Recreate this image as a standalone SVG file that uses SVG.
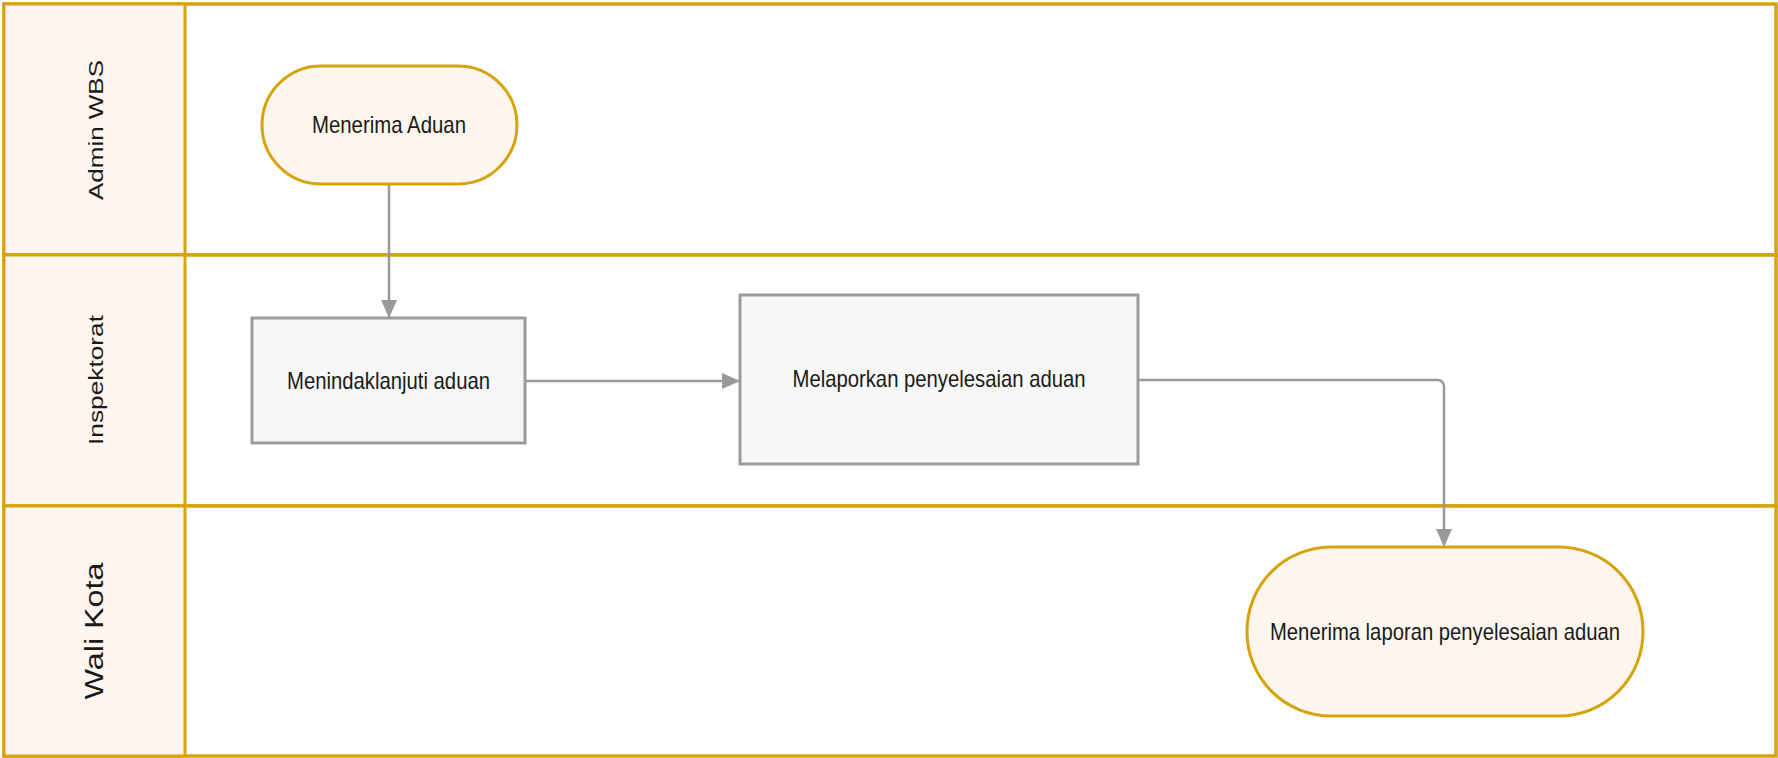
<svg xmlns="http://www.w3.org/2000/svg" width="1778" height="758" viewBox="0 0 1778 758">
<style>
.lane{fill:#ffffff;stroke:#d6a30b;stroke-width:3.5}
.hdr{fill:#fdf6ef;stroke:#d6a30b;stroke-width:3}
.lbl{font-family:"Liberation Sans",Arial,sans-serif;fill:#1a1a1a}
.term{fill:#fdf6ee;stroke:#d6a30b;stroke-width:3}
.proc{fill:#f7f7f7;stroke:#9b9b9b;stroke-width:3}
.txt{font-family:"Liberation Sans",Arial,sans-serif;font-size:24px;fill:#1a1a1a;text-anchor:middle}
.conn{fill:none;stroke:#999999;stroke-width:2.5}
</style>
<defs>
<marker id="arr" viewBox="0 0 18 16" refX="18" refY="8" markerWidth="18" markerHeight="16" markerUnits="userSpaceOnUse" orient="auto">
<path d="M0,0 L18,8 L0,16 Z" fill="#999999"/>
</marker>
</defs>
<rect width="1778" height="758" fill="#ffffff"/>
<g id="lane-admin">
<rect class="lane" x="4" y="4" width="1772" height="251"/>
<rect class="hdr" x="4" y="4" width="181" height="251"/>
<text class="lbl" font-size="21" transform="translate(103,130) rotate(-90)" text-anchor="middle" textLength="140" lengthAdjust="spacingAndGlyphs">Admin WBS</text>
</g>
<g id="lane-inspektorat">
<rect class="lane" x="4" y="255" width="1772" height="251"/>
<rect class="hdr" x="4" y="255" width="181" height="251"/>
<text class="lbl" font-size="21" transform="translate(103,380) rotate(-90)" text-anchor="middle" textLength="130" lengthAdjust="spacingAndGlyphs">Inspektorat</text>
</g>
<g id="lane-walikota">
<rect class="lane" x="4" y="506" width="1772" height="250"/>
<rect class="hdr" x="4" y="506" width="181" height="250"/>
<text class="lbl" font-size="25" transform="translate(103,631) rotate(-90)" text-anchor="middle" textLength="137" lengthAdjust="spacingAndGlyphs">Wali Kota</text>
</g>
<g id="connectors">
<path class="conn" d="M389,184 V318" marker-end="url(#arr)"/>
<path class="conn" d="M525,381 H740" marker-end="url(#arr)"/>
<path class="conn" d="M1138,380 H1437 Q1444,380 1444,387 V547" marker-end="url(#arr)"/>
</g>
<g id="node-menerima-aduan">
<rect class="term" x="262" y="66" width="255" height="118" rx="59" ry="59"/>
<text class="txt" x="389" y="133" textLength="154" lengthAdjust="spacingAndGlyphs">Menerima Aduan</text>
</g>
<g id="node-menindaklanjuti">
<rect class="proc" x="252" y="318" width="273" height="125"/>
<text class="txt" x="388.5" y="389" textLength="203" lengthAdjust="spacingAndGlyphs">Menindaklanjuti aduan</text>
</g>
<g id="node-melaporkan">
<rect class="proc" x="740" y="295" width="398" height="169"/>
<text class="txt" x="939" y="387" textLength="293" lengthAdjust="spacingAndGlyphs">Melaporkan penyelesaian aduan</text>
</g>
<g id="node-menerima-laporan">
<rect class="term" x="1247" y="547" width="396" height="169" rx="84" ry="84"/>
<text class="txt" x="1445" y="640" textLength="350" lengthAdjust="spacingAndGlyphs">Menerima laporan penyelesaian aduan</text>
</g>
</svg>
